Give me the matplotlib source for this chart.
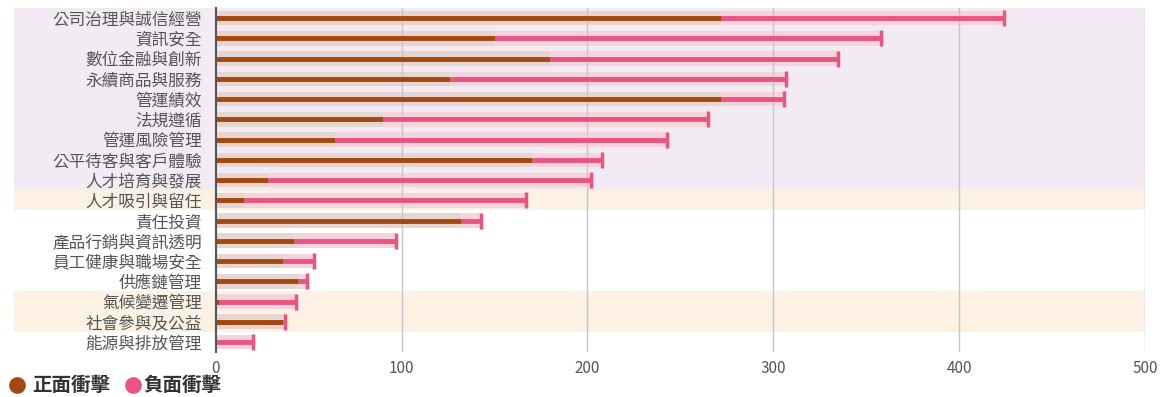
import matplotlib
matplotlib.use('Agg')
import matplotlib.pyplot as plt
import matplotlib.transforms as mtransforms
from matplotlib.patches import Rectangle
from matplotlib.lines import Line2D
import numpy as np

plt.rcParams['font.family'] = ['Noto Sans CJK TC', 'DejaVu Sans']

# topics, top to bottom
topics = ['公司治理與誠信經營', '資訊安全', '數位金融與創新', '永續商品與服務', '管運績效',
          '法規遵循', '管運風險管理', '公平待客與客戶體驗', '人才培育與發展', '人才吸引與留任',
          '責任投資', '產品行銷與資訊透明', '員工健康與職場安全', '供應鏈管理', '氣候變遷管理',
          '社會參與及公益', '能源與排放管理']
positive = [272, 150, 180, 126, 272, 90, 64, 170, 28, 15, 132, 42, 36, 44, 2, 36, 0]
negative = [152, 208, 155, 181, 34, 175, 179, 38, 174, 152, 11, 55, 17, 5, 41, 1, 20]
# background group of each row
band = ['lav'] * 9 + ['cream'] + ['white'] * 4 + ['cream'] * 2 + ['white']

band_colors = {'lav': '#f3ebf3', 'cream': '#fcf1e3', 'white': '#ffffff'}
pos_col = '#a5480f'
neg_col = '#ea5580'
pos_shadow = '#e7d5d1'
neg_shadow = '#f7d3de'

fig = plt.figure(figsize=(11.6, 3.97), dpi=100)
ax = fig.add_axes([0.186, 0.113, 0.801, 0.867])

n = len(topics)
y = np.arange(n)
pos = np.array(positive)
neg = np.array(negative)
total = pos + neg

ax.set_ylim(n - 0.5, -0.5)
ax.set_xlim(0, 500)

# row background bands, reaching under the labels
trans = mtransforms.blended_transform_factory(ax.transAxes, ax.transData)
for i, b in enumerate(band):
    if b == 'white':
        continue
    ax.add_patch(Rectangle((-0.217, i - 0.5), 1.217, 1.0, transform=trans,
                           color=band_colors[b], zorder=0, clip_on=False, lw=0))

# wide soft bars
ax.barh(y, pos, height=0.72, color=pos_shadow, zorder=1)
ax.barh(y, neg, left=pos, height=0.72, color=neg_shadow, zorder=1)

# grid
for gx in [100, 200, 300, 400, 500]:
    ax.axvline(gx, color='#c8c4c8', lw=1, zorder=2)

# thin lines and caps
ax.hlines(y, pos, total, color=neg_col, lw=3.5, zorder=3)
ax.hlines(y, 0, pos, color=pos_col, lw=3.5, zorder=4)
ax.plot(total, y, ls='none', marker='|', ms=12, mew=2.5, color=neg_col, zorder=4)

for s in ['top', 'right', 'bottom']:
    ax.spines[s].set_visible(False)
ax.spines['left'].set_color('#555555')
ax.spines['left'].set_linewidth(1.5)
ax.spines['left'].set_zorder(5)

ax.set_yticks(y)
ax.set_yticklabels(topics, fontsize=12, color='#555555')
ax.tick_params(axis='y', length=0, pad=10)
ax.set_xticks([0, 100, 200, 300, 400, 500])
ax.tick_params(axis='x', length=0, labelsize=11, labelcolor='#555555', pad=6)

# legend
ly = 0.029
fig.add_artist(Line2D([0.0145], [ly], marker='o', ms=11, color=pos_col, transform=fig.transFigure))
fig.text(0.028, ly, '正面衝擊', color='#333333', fontsize=14, fontweight='bold', va='center')
fig.add_artist(Line2D([0.1145], [ly], marker='o', ms=11, color=neg_col, transform=fig.transFigure))
fig.text(0.124, ly, '負面衝擊', color='#333333', fontsize=14, fontweight='bold', va='center')

fig.savefig('out.png', dpi=100)
